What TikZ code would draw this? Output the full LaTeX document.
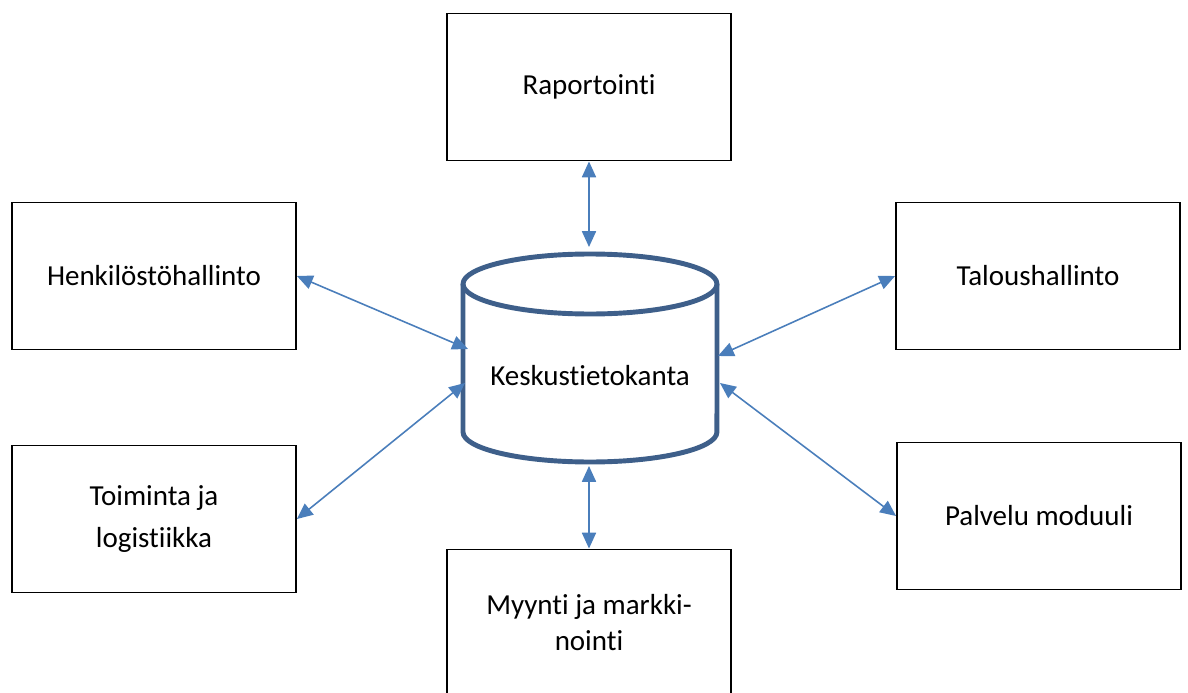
\documentclass[tikz,border=0pt]{standalone}
\usepackage{fontspec}
\setmainfont{Carlito}[Ligatures=NoCommon]
\usetikzlibrary{arrows.meta}
\definecolor{dbblue}{RGB}{62,95,138}
\definecolor{linkblue}{RGB}{74,126,187}

\begin{document}
\begin{tikzpicture}[x=0.02cm,y=-0.02cm,
    module/.style={draw,line width=1.1pt,minimum width=5.68cm,minimum height=2.94cm,
      align=center,font=\fontsize{16.5}{24}\selectfont},
    link/.style={linkblue,line width=0.9pt,
      {Triangle[length=9pt,width=8pt]}-{Triangle[length=9pt,width=8pt]}}]
    \useasboundingbox (0,0) rectangle (1188,693);
    % modules
    \node[module] (rap) at (589,87) {Raportointi};
    \node[module] (henk) at (154,276) {Henkilöstöhallinto};
    \node[module] (talo) at (1038,276) {Taloushallinto};
    \node[module] (toim) at (154,519) {Toiminta ja\\logistiikka};
    \node[module] (palv) at (1039,516) {Palvelu moduuli};
    \node[module,font=\fontsize{16.5}{20.5}\selectfont] (myyn) at (589,623) {Myynti ja markki-\\nointi};
    % database
    \draw[dbblue,line width=2.8pt] (463,284) -- (463,432)
      arc[start angle=180,end angle=360,x radius=2.54cm,y radius=0.6cm] -- (717,284);
    \draw[dbblue,line width=2.8pt] (590,284) ellipse [x radius=2.54cm,y radius=0.6cm];
    \node[font=\fontsize{16.5}{20}\selectfont] (db) at (590,376) {Keskustietokanta};
    \coordinate (db-n) at (589,247);
    \coordinate (db-s) at (589,466);
    \coordinate (db-w1) at (468,349);
    \coordinate (db-w2) at (465,383);
    \coordinate (db-e1) at (718,356);
    \coordinate (db-e2) at (720,383);
    % links
    \draw[link] (rap.south) -- (db-n);
    \draw[link] (db-s) -- (myyn.north);
    \draw[link] (henk.east) -- (db-w1);
    \draw[link] (toim.east) -- (db-w2);
    \draw[link] (talo.west) -- (db-e1);
    \draw[link] (palv.west) -- (db-e2);
\end{tikzpicture}
\end{document}
